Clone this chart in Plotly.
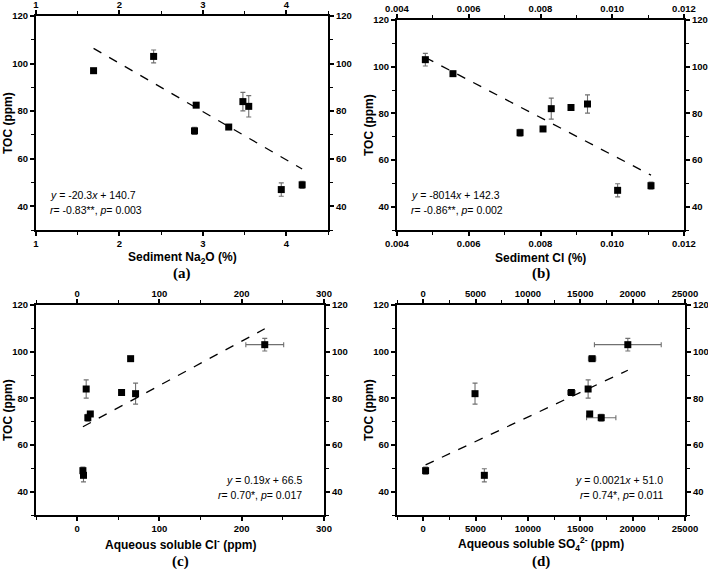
import plotly.graph_objects as go

# ---------------- data ----------------
toc = [97, 103, 82.5, 71.7, 73.3, 84, 82, 47, 49]
toc_err = [0.8, 2.7, 1.0, 1.5, 0.8, 3.9, 4.5, 2.8, 1.5]

na2o = [1.69, 2.41, 2.92, 2.90, 3.31, 3.48, 3.55, 3.94, 4.19]
na2o_err = [0.02, 0.02, 0.02, 0.02, 0.02, 0.02, 0.02, 0.02, 0.02]

cl_sed = [0.00556, 0.00479, 0.00885, 0.00743, 0.00807, 0.00931, 0.00830, 0.01015, 0.01108]
cl_sed_err = [0.00005, 0.00005, 0.00005, 0.00005, 0.00005, 0.00005, 0.00005, 0.00005, 0.00005]

cl_aq = [65, 228, 54, 13, 16, 11, 71, 7.7, 7]
cl_aq_err = [2, 23, 2, 1, 1, 1, 1, 1, 1]

so4 = [16130, 19540, 14150, 17000, 15900, 15750, 4950, 5840, 230]
so4_err = [350, 3190, 350, 1400, 100, 100, 100, 100, 100]

fit_slope = [-20.3, -8014, 0.19, 0.0021]
fit_intercept = [140.7, 142.3, 66.5, 51.0]
eq_text = ["<i>y</i> = -20.3<i>x</i> + 140.7", "<i>y</i> = -8014<i>x</i> + 142.3",
           "<i>y</i> = 0.19<i>x</i> + 66.5", "<i>y</i> = 0.0021<i>x</i> + 51.0"]
stat_text = ["<i>r</i>= -0.83**, <i>p</i>= 0.003", "<i>r</i>= -0.86**, <i>p</i>= 0.002",
             "<i>r</i>= 0.70*, <i>p</i>= 0.017", "<i>r</i>= 0.74*, <i>p</i>= 0.011"]
x_titles = ["Sediment Na<sub>2</sub>O (%)", "Sediment Cl (%)",
            "Aqueous soluble Cl<sup>-</sup> (ppm)",
            "Aqueous soluble SO<sub>4</sub><sup>2-</sup> (ppm)"]
y_title = "TOC (ppm)"
panel_labels = ["(a)", "(b)", "(c)", "(d)"]
x_ranges = [[1, 4.5], [0.004, 0.012], [-50, 300], [-2500, 25000]]
x_dticks = [1, 0.002, 100, 5000]
x_minor = [0.5, 0.001, 50, 2500]
x_formats = ["d", ".3f", "d", "d"]
y_range = [30, 120]

xs = [na2o, cl_sed, cl_aq, so4]
xerrs = [na2o_err, cl_sed_err, cl_aq_err, so4_err]

# ---------------- layout geometry ----------------
W, H = 708, 569
px_boxes = [  # left, right, top, bottom in pixels
    (36, 328, 16, 230),
    (397, 684, 20, 230),
    (36, 324, 305, 515),
    (397, 685, 305, 515),
]

fig = go.Figure()
layout = dict(
    width=W, height=H, margin=dict(l=0, r=0, t=0, b=0, autoexpand=False),
    paper_bgcolor="white", plot_bgcolor="white", showlegend=False,
    font=dict(family="Liberation Sans, Arial", color="black"),
)
annotations = []

FAM = "Liberation Sans, Arial"
tickfont = dict(family=FAM, size=9.5, color="black", weight="bold")

for i in range(4):
    l, r, t, b = px_boxes[i]
    xd = [l / W, r / W]
    yd = [1 - b / H, 1 - t / H]
    n = i + 1
    xa, ya = f"x{n}", f"y{n}"
    m = n + 4
    xa2, ya2 = f"x{m}", f"y{m}"
    axis_common = dict(showline=True, linecolor="black", linewidth=2, showgrid=False,
                       zeroline=False, ticks="outside", ticklen=4, tickwidth=1.5,
                       tickcolor="black", tickfont=tickfont, automargin=False)
    xcommon = dict(axis_common, range=x_ranges[i], dtick=x_dticks[i], tick0=0,
                   tickformat=x_formats[i],
                   minor=dict(dtick=x_minor[i], ticks="outside", ticklen=3, tickcolor="black", tickwidth=1.2))
    ycommon = dict(axis_common, range=y_range, dtick=20, tick0=0,
                   minor=dict(dtick=10, ticks="outside", ticklen=3, tickcolor="black", tickwidth=1.2))
    layout[f"xaxis{n}"] = dict(xcommon, domain=xd, anchor=ya)
    layout[f"yaxis{n}"] = dict(ycommon, domain=yd, anchor=xa)
    layout[f"xaxis{m}"] = dict(xcommon, domain=xd, anchor=ya, overlaying=xa, side="top",
                               ticklabelstandoff=-2)
    layout[f"yaxis{m}"] = dict(ycommon, domain=yd, anchor=xa, overlaying=ya, side="right")

    # invisible traces so the top/right axes are drawn
    fig.add_trace(go.Scatter(x=[x_ranges[i][0]], y=[y_range[0]], xaxis=xa2, yaxis=ya, mode="markers",
                             marker=dict(opacity=0), hoverinfo="skip"))
    fig.add_trace(go.Scatter(x=[x_ranges[i][0]], y=[y_range[0]], xaxis=xa, yaxis=ya2, mode="markers",
                             marker=dict(opacity=0), hoverinfo="skip"))

    # data points
    fig.add_trace(go.Scatter(
        x=xs[i], y=toc, mode="markers", xaxis=xa, yaxis=ya,
        marker=dict(symbol="square", size=7, color="black"),
        error_y=dict(type="data", array=toc_err, color="#707070", thickness=1.1, width=2.5),
        error_x=dict(type="data", array=xerrs[i], color="#707070", thickness=1.1, width=2.5),
    ))
    # fitted line from the printed equation, across the data range
    x0, x1 = min(xs[i]), max(xs[i])
    fig.add_trace(go.Scatter(
        x=[x0, x1], y=[fit_slope[i] * x0 + fit_intercept[i], fit_slope[i] * x1 + fit_intercept[i]],
        mode="lines", xaxis=xa, yaxis=ya,
        line=dict(color="black", width=1.3, dash="dash"),
    ))
    # axis titles
    ty_title = 258 if i < 2 else 544
    annotations.append(dict(x=(l + r) / 2 / W, y=1 - ty_title / H, xref="paper", yref="paper",
                            text="<b>" + x_titles[i] + "</b>", showarrow=False,
                            xanchor="center", yanchor="middle",
                            font=dict(family=FAM, size=12, color="black")))
    annotations.append(dict(x=(l - 28) / W, y=1 - (t + b) / 2 / H, xref="paper", yref="paper",
                            text="<b>" + y_title + "</b>", showarrow=False, textangle=-90,
                            xanchor="center", yanchor="middle",
                            font=dict(family=FAM, size=12, color="black")))
    # equation texts
    if i < 2:
        ax_x, anchor = (l + 12) / W, "left"
        ty = [195, 210]
    else:
        ax_x, anchor = (r - 20) / W, "right"
        ty = [480, 495]
    for txt, yy in zip([eq_text[i], stat_text[i]], ty):
        annotations.append(dict(x=ax_x, y=1 - yy / H, xref="paper", yref="paper",
                                text=txt, showarrow=False, xanchor=anchor, yanchor="middle",
                                font=dict(family=FAM, size=10.5, color="black")))
    # panel label
    ly = 273 if i < 2 else 561
    annotations.append(dict(x=(l + r) / 2 / W, y=1 - ly / H, xref="paper", yref="paper",
                            text="<b>" + panel_labels[i] + "</b>", showarrow=False,
                            xanchor="center", yanchor="middle",
                            font=dict(family="Liberation Serif, Times New Roman", size=15, color="black")))

layout["annotations"] = annotations
fig.update_layout(**layout)
fig.write_html("out.html", config={"displayModeBar": False},
               post_script="document.body.style.margin='0';document.body.style.overflow='hidden';")
